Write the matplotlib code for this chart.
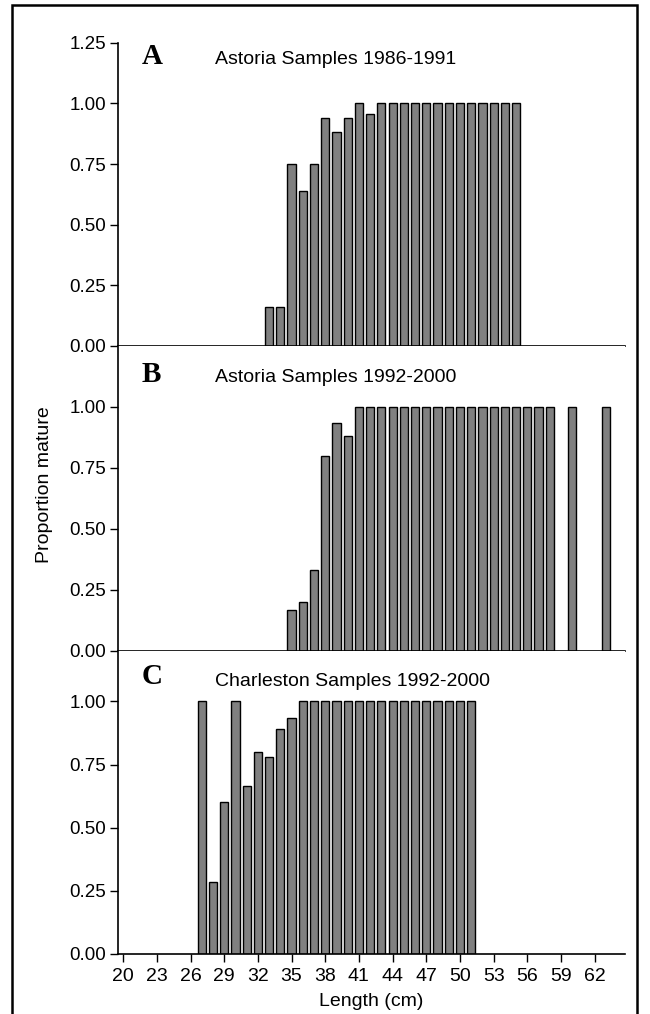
import matplotlib
matplotlib.use("Agg")
import matplotlib.pyplot as plt
from matplotlib.patches import Rectangle

# lengths (cm) and proportion mature for each sample set
len_a = list(range(33, 56))
prop_a = [0.16, 0.16, 0.75, 0.64, 0.75, 0.94, 0.88, 0.94, 1.0, 0.955] + [1.0] * 13

len_b = list(range(35, 59)) + [60, 63]
prop_b = [0.167, 0.20, 0.333, 0.80, 0.935, 0.88] + [1.0] * 18 + [1.0, 1.0]

len_c = list(range(27, 52))
prop_c = [1.0, 0.284, 0.60, 1.0, 0.667, 0.80, 0.78, 0.89, 0.934] + [1.0] * 16

letters = ['A', 'B', 'C']
titles = ['Astoria Samples 1986-1991', 'Astoria Samples 1992-2000',
          'Charleston Samples 1992-2000']
ytops = [1.25, 1.25, 1.2]
xticks = list(range(20, 63, 3))

plt.rcParams['font.family'] = ['Liberation Sans', 'DejaVu Sans']

fig = plt.figure(figsize=(6.5, 10.14), dpi=100)

left, width = 0.1808, 0.7808
boxes = [(0.6588, 0.2991), (0.358, 0.3008), (0.0592, 0.2988)]
data = [(len_a, prop_a), (len_b, prop_b), (len_c, prop_c)]
letter_y = [0.955, 0.905, 0.915]
title_y = [0.945, 0.897, 0.90]

for i, (x, y) in enumerate(data):
    bot, h = boxes[i]
    ax = fig.add_axes([left, bot, width, h])
    ax.bar(x, y, 0.73, color='#808080', edgecolor='black', linewidth=1.0)
    ax.set_xlim(19.5, 64.7)
    ax.set_ylim(0, ytops[i])
    if i == 0:
        ax.set_yticks([0, 0.25, 0.5, 0.75, 1.0, 1.25])
    else:
        ax.set_yticks([0, 0.25, 0.5, 0.75, 1.0])
    ax.yaxis.set_major_formatter(matplotlib.ticker.FormatStrFormatter('%.2f'))
    ax.spines['top'].set_visible(False)
    ax.spines['right'].set_visible(False)
    ax.spines['left'].set_linewidth(1.2)
    ax.spines['bottom'].set_linewidth(1.2)
    ax.tick_params(axis='y', direction='out', length=6, width=1.0,
                   labelsize=13.5, pad=2)
    if i == 2:
        ax.set_xticks(xticks)
        ax.tick_params(axis='x', direction='out', length=6, width=1.0,
                       labelsize=14, pad=4)
        ax.set_xlabel('Length (cm)', fontsize=14, labelpad=6)
    else:
        ax.set_xticks([])
    ax.text(0.048, letter_y[i], letters[i], transform=ax.transAxes,
            fontsize=21, fontweight='bold', family='Liberation Serif',
            ha='left', va='center')
    ax.text(0.192, title_y[i], titles[i], transform=ax.transAxes,
            fontsize=14, ha='left', va='center')

fig.text(45 / 650, 1 - 485 / 1014, 'Proportion mature', rotation=90,
         fontsize=14, ha='center', va='center')

# frame round the whole figure
fig.patches.append(Rectangle((12 / 650, -0.02), 625 / 650, 1.02 + 1 - 5 / 1014 - 1,
                             transform=fig.transFigure, fill=False,
                             edgecolor='black', linewidth=1.8))

fig.savefig('out.png', dpi=100)
